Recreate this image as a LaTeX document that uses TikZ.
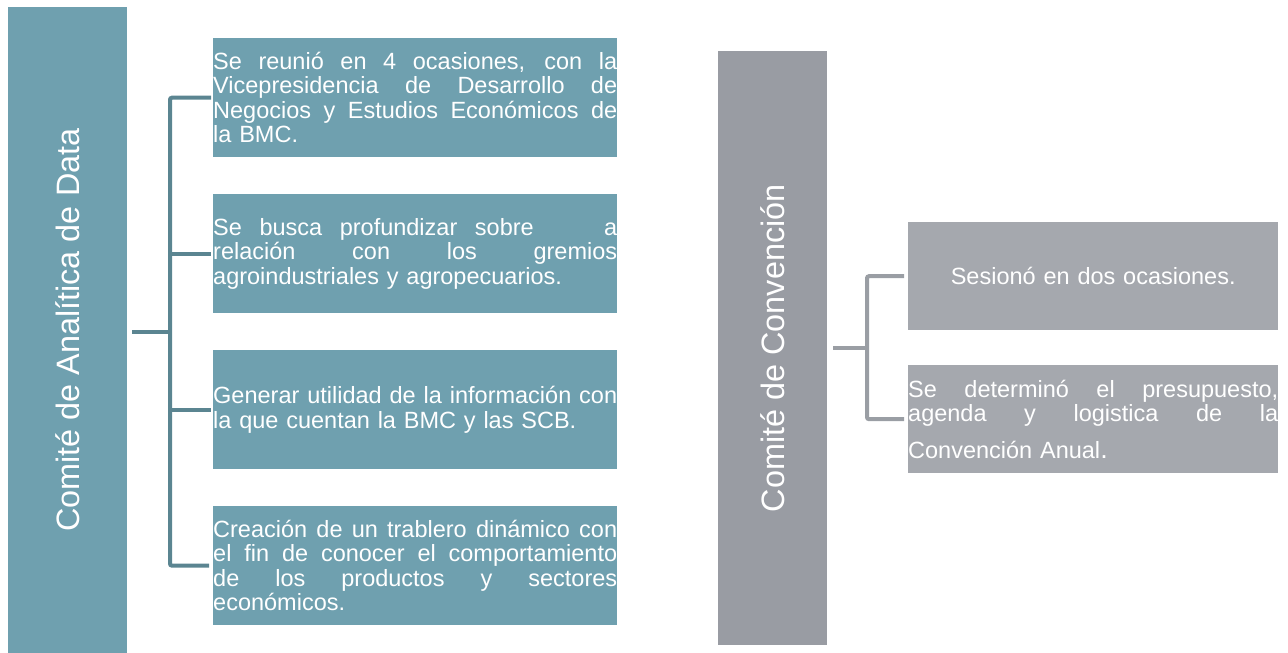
\documentclass[tikz,border=0pt]{standalone}
\usepackage{fontspec}
\setmainfont{Liberation Sans}
\newcommand{\jl}[2][404pt]{\leavevmode\hbox to #1{\spaceskip=0.28em plus 1fil\relax #2}\\}
\definecolor{tealbar}{HTML}{6FA0AF}
\definecolor{tealline}{HTML}{5B8591}
\definecolor{graybar}{HTML}{999CA3}
\definecolor{graybox}{HTML}{A5A8AE}
\definecolor{grayline}{HTML}{9A9EA4}
\tikzset{
  bar/.style={fill=#1, draw=none, inner sep=0pt, text=white, anchor=north west},
  box/.style={fill=#1, draw=none, inner sep=0pt, text=white, anchor=north west, align=left,
    font=\fontsize{23.5}{24.5}\selectfont},
  conn/.style={draw=#1, line width=4pt, rounded corners=2pt},
  bartext/.style={text=white, rotate=90, font=\fontsize{32.4}{38}\selectfont}
}
\begin{document}
\begin{tikzpicture}[x=1pt,y=-1pt]
\useasboundingbox (0,0) rectangle (1288,653);
% left group
\node[bar=tealbar, minimum width=119pt, minimum height=646pt] (lbar) at (8,7) {};
\node[bartext] (ltxt) at (lbar.center) {Comité de Analítica de Data};
\node[box=tealbar, minimum width=404pt, minimum height=119pt, text width=404pt] (b1) at (213,38)
  {\jl{Se reunió en 4 ocasiones, con la}\jl{Vicepresidencia de Desarrollo de}\jl{Negocios y Estudios Económicos de}la BMC.};
\node[box=tealbar, minimum width=404pt, minimum height=119pt, text width=404pt] (b2) at (213,194)
  {\jl{Se busca profundizar sobre \ \ \ a}\jl{relación con los gremios}agroindustriales y agropecuarios.};
\node[box=tealbar, minimum width=404pt, minimum height=119pt, text width=404pt] (b3) at (213,350)
  {\jl{Generar utilidad de la información con}la que cuentan la BMC y las SCB.};
\node[box=tealbar, minimum width=404pt, minimum height=119pt, text width=404pt] (b4) at (213,506)
  {\jl{Creación de un trablero dinámico con}\jl{el fin de conocer el comportamiento}\jl{de los productos y sectores}económicos.};
\coordinate (lj) at (170,332);
\draw[conn=tealline] ([xshift=5pt]lbar.east |- lj) -- (lj);
\draw[conn=tealline] ([xshift=-2pt]b1.west) -| (lj) |- ([xshift=-4pt]b4.west);
\draw[conn=tealline] (lj |- b2.west) -- ([xshift=-2pt]b2.west);
\draw[conn=tealline] (lj |- b3.west) -- ([xshift=-2pt]b3.west);
% right group
\node[bar=graybar, minimum width=109pt, minimum height=594pt] (rbar) at (718,51) {};
\node[bartext] (rtxt) at (rbar.center) {Comité de Convención};
\node[box=graybox, minimum width=370pt, minimum height=108pt, text width=370pt, align=center] (r1) at (908,222)
  {Sesionó en dos ocasiones.};
\node[box=graybox, minimum width=370pt, minimum height=108pt, text width=370pt] (r2) at (908,365)
  {\jl[370pt]{Se determinó el presupuesto,}\jl[370pt]{agenda y logistica de la}[12pt]Convención Anual{\fontsize{27}{27}\selectfont.}};
\coordinate (rj) at (867,348);
\draw[conn=grayline] ([xshift=6pt]rbar.east |- rj) -- (rj);
\draw[conn=grayline] ([xshift=-4pt]r1.west) -| (rj) |- ([xshift=-4pt]r2.west);
\end{tikzpicture}
\end{document}
